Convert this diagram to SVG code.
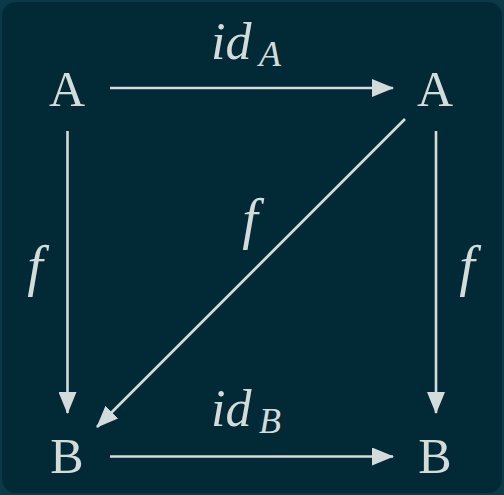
<svg xmlns="http://www.w3.org/2000/svg" width="504" height="495" viewBox="0 0 504 495">
<defs>
<style>
.e{stroke:#d3dbdb;stroke-width:2.6;fill:none}
</style>
<marker id="ah" viewBox="0 0 22 18" refX="21" refY="9" markerWidth="22" markerHeight="18" markerUnits="userSpaceOnUse" orient="auto">
<path d="M0,0 L22,9 L0,18 Z" fill="#d3dbdb"/>
</marker>
</defs>
<rect x="0" y="0" width="504" height="495" fill="#0c3947"/>
<rect x="2" y="2" width="500" height="491" rx="14" fill="#022a36"/>
<g id="connectors">
<line class="e" x1="110" y1="88" x2="393" y2="88" marker-end="url(#ah)"/>
<line class="e" x1="110" y1="456.5" x2="393" y2="456.5" marker-end="url(#ah)"/>
<line class="e" x1="67.5" y1="131" x2="67.5" y2="413" marker-end="url(#ah)"/>
<line class="e" x1="436" y1="131" x2="436" y2="413" marker-end="url(#ah)"/>
<line class="e" x1="405" y1="119" x2="97" y2="427" marker-end="url(#ah)"/>
<text x="211" y="59" font-family="Liberation Serif" font-style="italic" font-size="52" fill="#d3dbdb">id</text>
<text x="259" y="66" font-family="Liberation Serif" font-style="italic" font-size="36" fill="#d3dbdb">A</text>
<text x="211" y="426" font-family="Liberation Serif" font-style="italic" font-size="52" fill="#d3dbdb">id</text>
<text x="259" y="433" font-family="Liberation Serif" font-style="italic" font-size="36" fill="#d3dbdb">B</text>
<text x="35" y="285" font-family="Liberation Serif" font-style="italic" font-size="56" text-anchor="middle" fill="#d3dbdb">f</text>
<text x="250" y="238" font-family="Liberation Serif" font-style="italic" font-size="56" text-anchor="middle" fill="#d3dbdb">f</text>
<text x="467" y="285" font-family="Liberation Serif" font-style="italic" font-size="56" text-anchor="middle" fill="#d3dbdb">f</text>
</g>
<g id="nodeA1"><text x="67" y="106" font-family="Liberation Serif" font-size="50" text-anchor="middle" fill="#d3dbdb">A</text></g>
<g id="nodeA2"><text x="435" y="106" font-family="Liberation Serif" font-size="50" text-anchor="middle" fill="#d3dbdb">A</text></g>
<g id="nodeB1"><text x="67" y="473" font-family="Liberation Serif" font-size="50" text-anchor="middle" fill="#d3dbdb">B</text></g>
<g id="nodeB2"><text x="435" y="473" font-family="Liberation Serif" font-size="50" text-anchor="middle" fill="#d3dbdb">B</text></g>
</svg>
